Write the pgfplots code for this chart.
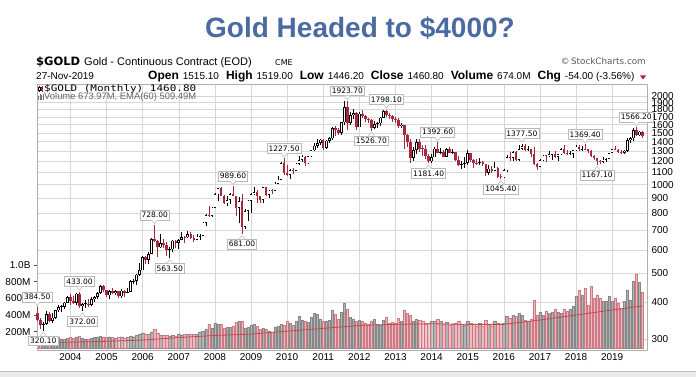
\documentclass[border=0pt]{standalone}
\usepackage{fontspec}
\setmainfont{Liberation Sans}
\newfontfamily\dvs{DejaVu Sans}
\newfontfamily\dvsm{DejaVu Sans Mono}
\usepackage{graphicx}
\usepackage{pgfplots}
\pgfplotsset{compat=1.18}
\usepackage{pgfplotstable}

\definecolor{candred}{RGB}{165,40,60}
\definecolor{volgray}{RGB}{180,180,180}
\definecolor{volgrayedge}{RGB}{135,135,135}
\definecolor{volpink}{RGB}{238,186,192}
\definecolor{volpinkedge}{RGB}{205,122,134}
\definecolor{gridc}{RGB}{215,215,215}
\definecolor{framec}{RGB}{175,175,175}
\definecolor{titleblue}{RGB}{76,106,162}
\definecolor{emared}{RGB}{205,70,70}
\definecolor{lblc}{RGB}{185,185,185}

\pgfplotstableread{
t o h l c v
1 368 384.5 344 348 130
2 348 352 323 335 125
3 335 342 320.1 337 110
4 337 374 335 364 125
5 364 371 342 346 120
6 346 366 340 354 105
7 354 377 350 375 115
8 375 392 370 384 130
9 384 391 371 386 115
10 386 401 378 398 110
11 398 418 397 416 120
12 416 427 390 402 135
13 402 418 393 397 125
14 397 429 392 427 140
15 427 433 382 388 150
16 388 398 372 394 125
17 394 405 381 395 115
18 395 410 386 391 110
19 391 415 388 408 120
20 408 418 400 416 130
21 416 432 411 429 140
22 429 456 427 453 150
23 453 457 433 438 140
24 438 440 415 422 135
25 422 441 411 435 140
26 435 447 425 428 135
27 428 438 423 435 125
28 435 437 414 418 130
29 418 443 414 437 140
30 437 438 417 429 125
31 429 447 428 433 130
32 433 476 432 470 150
33 470 479 460 471 140
34 471 498 456 495 155
35 495 542 489 513 175
36 513 571 512 568 185
37 568 574 540 556 165
38 556 590 539 582 170
39 582 660 580 654 200
40 654 728 640 643 230
41 643 648 570 613 180
42 613 680 610 633 160
43 633 655 611 626 155
44 626 640 575 599 160
45 599 617 563.5 604 150
46 604 648 590 646 160
47 646 650 610 635 150
48 635 656 603 650 165
49 650 690 648 665 160
50 665 672 636 663 175
51 663 696 661 680 165
52 680 692 654 660 170
53 660 673 640 650 175
54 650 683 648 666 165
55 666 682 651 672 195
56 672 747 670 743 205
57 743 795 724 789 235
58 789 848 780 783 290
59 783 838 780 836 245
60 836 936 833 927 300
61 927 975 880 971 290
62 971 986 915 917 295
63 917 925 860 865 245
64 865 915 850 887 250
65 887 937 860 928 255
66 928 989.6 915 913 270
67 913 917 786 833 310
68 833 912 740 880 330
69 880 933 681 718 320
70 718 829 705 814 245
71 814 889 755 884 250
72 884 937 803 928 280
73 928 985 920 942 290
74 942 963 865 916 260
75 916 918 865 891 230
76 891 982 870 979 240
77 979 982 915 926 230
78 926 960 905 955 205
79 955 966 933 953 195
80 953 1025 952 1008 250
81 1008 1070 1003 1040 270
82 1040 1195 1035 1182 290
83 1182 1227.5 1075 1096 280
84 1096 1163 1072 1081 320
85 1081 1128 1045 1118 300
86 1118 1137 1088 1115 280
87 1115 1183 1114 1180 330
88 1180 1249 1164 1212 390
89 1212 1265 1198 1245 340
90 1245 1250 1155 1181 320
91 1181 1251 1175 1248 310
92 1248 1310 1241 1307 370
93 1307 1388 1300 1357 420
94 1357 1424 1330 1386 410
95 1386 1432 1360 1421 350
96 1421 1424 1309 1332 330
97 1332 1413 1323 1411 320
98 1411 1448 1381 1439 340
99 1439 1575 1419 1556 460
100 1556 1577 1462 1536 410
101 1536 1556 1478 1500 350
102 1500 1632 1478 1628 430
103 1628 1917 1600 1829 545
104 1829 1923.7 1535 1620 470
105 1620 1764 1600 1725 370
106 1725 1804 1668 1746 350
107 1746 1764 1531 1566 320
108 1566 1764 1564 1740 340
109 1740 1791 1688 1711 320
110 1711 1718 1627 1669 300
111 1669 1680 1614 1664 290
112 1664 1674 1526.7 1560 330
113 1560 1640 1540 1604 350
114 1604 1630 1556 1615 290
115 1615 1693 1581 1687 280
116 1687 1790 1680 1776 340
117 1776 1798.1 1700 1719 370
118 1719 1755 1673 1714 300
119 1714 1726 1635 1675 310
120 1675 1698 1625 1662 300
121 1662 1685 1555 1578 360
122 1578 1617 1562 1597 320
123 1597 1600 1321 1476 460
124 1476 1488 1338 1392 420
125 1392 1424 1180.5 1234 400
126 1234 1348 1208 1312 330
127 1312 1434 1272 1396 350
128 1396 1424 1290 1327 340
129 1327 1362 1251 1323 320
130 1323 1362 1226 1250 290
131 1250 1268 1181.4 1201 300
132 1201 1270 1182 1240 320
133 1240 1345 1238 1326 330
134 1326 1392.6 1277 1284 350
135 1284 1331 1268 1296 320
136 1296 1315 1240 1246 290
137 1246 1332 1240 1322 310
138 1322 1346 1283 1285 280
139 1285 1325 1272 1287 290
140 1287 1290 1205 1210 300
141 1210 1256 1161 1171 320
142 1171 1206 1131 1175 290
143 1175 1238 1142 1184 280
144 1184 1307 1167 1279 330
145 1279 1284 1192 1213 300
146 1213 1223 1142 1183 290
147 1183 1224 1171 1182 270
148 1182 1232 1168 1190 300
149 1190 1205 1162 1172 260
150 1172 1175 1072 1095 340
151 1095 1170 1077 1133 290
152 1133 1159 1098 1115 270
153 1115 1192 1111 1142 330
154 1142 1147 1052 1065 300
155 1065 1089 1045.4 1061 290
156 1061 1127 1058 1118 300
157 1118 1263 1108 1238 380
158 1238 1287 1208 1234 360
159 1234 1306 1206 1291 400
160 1291 1304 1199 1215 380
161 1215 1362 1200 1322 420
162 1322 1377.5 1310 1350 400
163 1350 1375 1302 1309 340
164 1309 1352 1305 1317 330
165 1317 1326 1241 1275 350
166 1275 1338 1171 1173 575
167 1173 1182 1124 1152 400
168 1152 1222 1146 1211 430
169 1211 1264 1200 1253 400
170 1253 1264 1195 1249 440
171 1249 1297 1244 1268 420
172 1268 1276 1215 1269 430
173 1269 1297 1237 1242 470
174 1242 1276 1205 1269 430
175 1269 1333 1266 1322 420
176 1322 1362 1276 1280 470
177 1280 1310 1262 1271 450
178 1271 1300 1264 1276 470
179 1276 1309 1236 1309 500
180 1309 1366 1302 1345 620
181 1345 1366 1306 1318 700
182 1318 1357 1303 1327 640
183 1327 1369.4 1310 1318 720
184 1318 1326 1282 1305 520
185 1305 1309 1245 1253 740
186 1253 1266 1211 1233 600
187 1233 1237 1167.1 1206 640
188 1206 1214 1180 1196 600
189 1196 1245 1183 1215 560
190 1215 1237 1196 1222 560
191 1222 1286 1221 1282 620
192 1282 1326 1280 1321 560
193 1321 1350 1310 1316 600
194 1316 1325 1281 1295 540
195 1295 1312 1267 1284 480
196 1284 1310 1268 1306 560
197 1306 1442 1295 1413 700
198 1413 1453 1384 1437 580
199 1437 1555 1410 1529 800
200 1529 1566.2 1465 1473 886
201 1473 1519 1458 1514 790
202 1515.1 1519 1446.2 1460.8 674
}\gold

\pgfplotsset{
  base/.style={scale only axis, width=610pt, height=266pt,
    at={(37pt,27pt)}, anchor=south west, xmin=0.9, xmax=203.57},
  ebar/.style={draw=none, mark=none, error bars/.cd, y dir=plus, y explicit,
    error mark=none, error bar style={#1}},
}
\tikzset{
  lbl/.style={draw=lblc, fill=white, line width=0.5pt,
    font=\dvs\fontsize{7.5}{7.5}\selectfont, inner xsep=1.6pt, inner ysep=2.1pt},
}
\newcommand\hilab[3]{%
  \node[lbl, anchor=south] at ([yshift=5pt]axis cs:#1,#2) {#3};
  \filldraw[fill=white, draw=lblc, line width=0.5pt]
    ([xshift=-3pt,yshift=5.25pt]axis cs:#1,#2) -- ([yshift=1.5pt]axis cs:#1,#2)
    -- ([xshift=3pt,yshift=5.25pt]axis cs:#1,#2);}
\newcommand\lolab[3]{%
  \node[lbl, anchor=north] at ([yshift=-5pt]axis cs:#1,#2) {#3};
  \filldraw[fill=white, draw=lblc, line width=0.5pt]
    ([xshift=-3pt,yshift=-5.25pt]axis cs:#1,#2) -- ([yshift=-1.5pt]axis cs:#1,#2)
    -- ([xshift=3pt,yshift=-5.25pt]axis cs:#1,#2);}

\begin{document}
\begin{tikzpicture}[x=1pt,y=1pt]
\fill[white] (0,0) rectangle (696,377);
\path[use as bounding box] (0,0) rectangle (696,377);

% price grid + labels
\begin{axis}[base, ymin=5.6165, ymax=7.6947,
  axis line style={draw=framec, line width=0.6pt},
  xtick={12,24,36,48,60,72,84,96,108,120,132,144,156,168,180,192},
  xticklabels={2004,2005,2006,2007,2008,2009,2010,2011,2012,2013,2014,2015,2016,2017,2018,2019},
  ytick={5.7038,5.9915,6.2146,6.3969,6.5511,6.6846,6.8024,6.9078,7.0031,7.0901,7.1701,7.2442,7.3132,7.3778,7.4384,7.4955,7.5496,7.6009},
  yticklabels={300,400,500,600,700,800,900,1000,1100,1200,1300,1400,1500,1600,1700,1800,1900,2000},
  ytick pos=right, xtick pos=bottom, major tick length=0pt,
  grid=major, major grid style={gridc, line width=0.5pt},
  yticklabel style={font=\fontsize{10}{10}\selectfont, anchor=west, xshift=1pt},
  xticklabel style={font=\fontsize{10}{10}\selectfont},
]
\addplot[draw=none, mark=none] coordinates {(1,6) (2,6)};
\end{axis}

% volume
\begin{axis}[base, ymin=-19, ymax=3166,
  axis line style={draw=none},
  xtick=\empty, ytick={200,400,600,800,1000},
  yticklabels={200M,400M,600M,800M,1.0B},
  ytick pos=left, tick align=outside, major tick length=3pt,
  major tick style={black!70, line width=0.5pt},
  yticklabel style={font=\fontsize{10}{10}\selectfont},
]
\addplot[ybar, bar width=2.3pt, bar shift=0pt, fill=volgray, draw=volgrayedge, line width=0.4pt]
  table[x=t, y expr={\thisrow{c}>=\thisrow{o} ? \thisrow{v} : nan}] {\gold};
\addplot[ybar, bar width=2.3pt, bar shift=0pt, fill=volpink, draw=volpinkedge, line width=0.4pt]
  table[x=t, y expr={\thisrow{c}<\thisrow{o} ? \thisrow{v} : nan}] {\gold};
\addplot[emared, line width=0.8pt, mark=none] coordinates {
 (1,70) (12,75) (24,85) (36,100) (48,130) (60,155) (72,171) (84,207) (96,240)
 (108,275) (120,288) (132,295) (144,288) (156,288) (168,340) (180,400) (192,460) (202,509)};
\end{axis}

% candles
\begin{axis}[base, ymin=5.6165, ymax=7.6947, hide axis, clip=false]
\addplot[ebar={draw=black, line width=0.65pt}]
  table[x=t, y expr={\thisrow{c}>=\thisrow{o} ? ln(\thisrow{l}) : nan},
        y error plus expr={ln(\thisrow{h})-ln(\thisrow{l})}] {\gold};
\addplot[ebar={draw=candred, line width=0.65pt}]
  table[x=t, y expr={\thisrow{c}<\thisrow{o} ? ln(\thisrow{l}) : nan},
        y error plus expr={ln(\thisrow{h})-ln(\thisrow{l})}] {\gold};
\addplot[ebar={draw=candred, line width=2.5pt}]
  table[x=t, y expr={\thisrow{c}<\thisrow{o} ? ln(\thisrow{c}) : nan},
        y error plus expr={max(ln(\thisrow{o})-ln(\thisrow{c}),0.006)}] {\gold};
\addplot[ebar={draw=black, line width=2.6pt}]
  table[x=t, y expr={\thisrow{c}>=\thisrow{o} ? ln(\thisrow{o}) : nan},
        y error plus expr={max(ln(\thisrow{c})-ln(\thisrow{o}),0.006)}] {\gold};
\addplot[ebar={draw=white, line width=1.4pt}]
  table[x=t, y expr={\thisrow{c}>=\thisrow{o} ? ln(\thisrow{o})+0.005 : nan},
        y error plus expr={max(ln(\thisrow{c})-ln(\thisrow{o})-0.01,0)}] {\gold};

\hilab{1}{5.9521}{384.50}
\lolab{3}{5.7687}{320.10}
\hilab{15}{6.0708}{433.00}
\lolab{16}{5.9189}{372.00}
\hilab{40}{6.5903}{728.00}
\lolab{45}{6.3342}{563.50}
\hilab{66}{6.8974}{989.60}
\lolab{69}{6.5236}{681.00}
\hilab{83}{7.1128}{1227.50}
\hilab{104}{7.5621}{1923.70}
\lolab{112}{7.3309}{1526.70}
\hilab{117}{7.4945}{1798.10}
\lolab{131}{7.0745}{1181.40}
\hilab{134}{7.2390}{1392.60}
\lolab{155}{6.9522}{1045.40}
\hilab{162}{7.2281}{1377.50}
\hilab{183}{7.2222}{1369.40}
\lolab{187}{7.0623}{1167.10}
\hilab{200}{7.3565}{1566.20}
\end{axis}

% header
\node[anchor=base, inner sep=0pt, font=\bfseries\fontsize{28}{28}\selectfont, text=titleblue] at (360,339) {Gold Headed to \$4000?};
\node[anchor=base west, inner sep=0pt, font=\dvs\bfseries\fontsize{11.5}{12}\selectfont] at (36,311) {\$GOLD};
\node[anchor=base west, inner sep=0pt, font=\fontsize{11}{12}\selectfont] at (84,311) {Gold - Continuous Contract (EOD)};
\node[anchor=base west, inner sep=0pt, font=\dvs\fontsize{8}{9}\selectfont] at (275,311) {CME};
\node[anchor=base east, inner sep=0pt, font=\dvs\fontsize{8.8}{9}\selectfont, text=black!65] at (646,312.5) {\textcopyright\,StockCharts.com};
\node[anchor=base west, inner sep=0pt, font=\fontsize{10}{12}\selectfont] at (36,297.3) {27-Nov-2019};
\node[anchor=base west, inner sep=0pt, font=\fontsize{10}{12}\selectfont] at (148,297.3) {%
{\bfseries\fontsize{12}{12}\selectfont Open}\hspace{4pt}1515.10\hspace{7pt}%
{\bfseries\fontsize{12}{12}\selectfont High}\hspace{4pt}1519.00\hspace{7pt}%
{\bfseries\fontsize{12}{12}\selectfont Low}\hspace{4pt}1446.20\hspace{7pt}%
{\bfseries\fontsize{12}{12}\selectfont Close}\hspace{4pt}1460.80\hspace{7pt}%
{\bfseries\fontsize{12}{12}\selectfont Volume}\hspace{4pt}674.0M\hspace{7pt}%
{\bfseries\fontsize{12}{12}\selectfont Chg}\hspace{4pt}-54.00 (-3.56\%)};
\fill[candred] (640,301.5) -- (646,301.5) -- (643,297.5) -- cycle;

% legend rows inside plot
\draw[black, line width=0.5pt] (39.5,285) -- (39.5,291);
\draw[black, line width=0.5pt, fill=white] (38.7,286.5) rectangle (40.3,290);
\draw[candred, line width=0.5pt] (42,285) -- (42,291);
\fill[candred] (41.2,286) rectangle (42.8,289.5);
\node[anchor=base west, inner sep=0pt, font=\dvsm\fontsize{9}{10}\selectfont] at (44,285.3) {\scalebox{1.22}[1]{\$GOLD (Monthly) 1460.80}};
\fill[black!55] (38.3,277.3) rectangle (39.1,280.5);
\fill[black!55] (39.7,277.3) rectangle (40.5,283);
\fill[black!55] (41.1,277.3) rectangle (41.9,281.5);
\fill[black!55] (42.5,277.3) rectangle (43.3,282.5);
\node[anchor=base west, inner sep=0pt, font=\fontsize{9.4}{10}\selectfont, text=black!60] at (44,277.3) {Volume 673.97M, EMA(60) 509.49M};

% bottom toolbar strip
\fill[black!8] (0,0) rectangle (696,5.5);
\draw[black!25, line width=0.5pt] (0,5.5) -- (696,5.5);
\end{tikzpicture}
\end{document}
